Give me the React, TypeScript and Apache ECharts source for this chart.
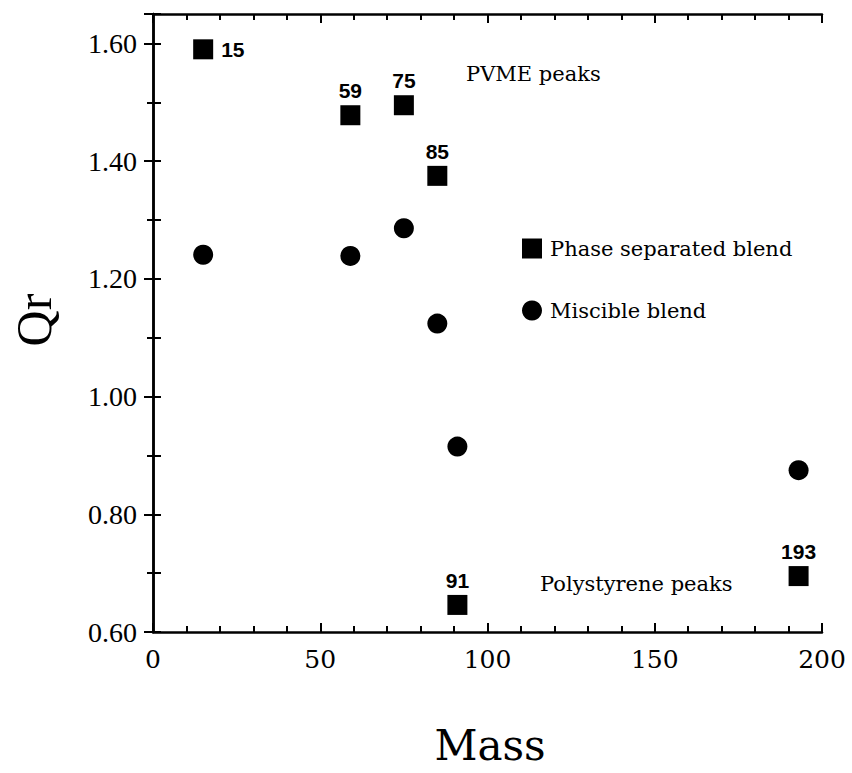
import React, { useEffect, useRef } from "react";
import * as echarts from "echarts";

const masses = [15, 59, 75, 85, 91, 193];
const phaseSeparatedQr = [1.59, 1.478, 1.495, 1.375, 0.646, 0.695];
const miscibleQr = [1.241, 1.239, 1.286, 1.124, 0.915, 0.875];
const peakLabels = ["15", "59", "75", "85", "91", "193"];
const xTicks = { min: 0, max: 200, interval: 50 };
const yTicks = { min: 0.6, max: 1.65, interval: 0.2 };

const SERIF = "'Liberation Serif', 'Times New Roman', serif";
const WIDE_SERIF = "'DejaVu Serif', serif";

export default function App() {
  const ref = useRef<HTMLDivElement>(null);
  useEffect(() => {
    document.body.style.margin = "0";
    const chart = echarts.init(ref.current!, null, { renderer: "svg" });
    const axisLine = { show: true, lineStyle: { color: "#000", width: 2.5 } };
    const option: any = {
      animation: false,
      backgroundColor: "#fff",
      grid: { left: 153, right: 30, top: 14, bottom: 141, containLabel: false, outerBoundsMode: "none" },
      legend: {
        orient: "vertical",
        left: 517,
        top: 233,
        itemWidth: 20,
        itemHeight: 20,
        itemGap: 41,
        textStyle: { fontFamily: WIDE_SERIF, fontSize: 21, color: "#000", padding: [0, 0, 0, 3] },
        data: [
          { name: "Phase separated blend", icon: "rect", itemStyle: { color: "#000", opacity: 1 } },
          { name: "Miscible blend", icon: "circle", itemStyle: { color: "#000", opacity: 1 } },
        ],
      },
      xAxis: [
        {
          type: "value",
          position: "bottom",
          min: xTicks.min,
          max: xTicks.max,
          interval: xTicks.interval,
          axisLine,
          axisTick: { show: true, inside: true, length: 9, lineStyle: { color: "#000", width: 2 } },
          minorTick: { show: true, splitNumber: 5, length: 6, lineStyle: { color: "#000", width: 2 } },
          axisLabel: { fontFamily: WIDE_SERIF, fontSize: 25, color: "#000", margin: 15 },
          splitLine: { show: false },
        },
        {
          type: "value",
          position: "top",
          min: xTicks.min,
          max: xTicks.max,
          interval: xTicks.interval,
          axisLine,
          axisTick: { show: true, inside: true, length: 9, lineStyle: { color: "#000", width: 2 } },
          minorTick: { show: true, splitNumber: 5, length: 6, lineStyle: { color: "#000", width: 2 } },
          axisLabel: { show: false },
          splitLine: { show: false },
        },
      ],
      yAxis: [
        {
          type: "value",
          position: "left",
          min: yTicks.min,
          max: yTicks.max,
          interval: yTicks.interval,
          axisLine,
          axisTick: { show: true, inside: false, length: 9, lineStyle: { color: "#000", width: 2 } },
          minorTick: { show: true, splitNumber: 2, length: 6, lineStyle: { color: "#000", width: 2 } },
          axisLabel: {
            fontFamily: SERIF,
            fontSize: 28,
            color: "#000",
            margin: 16,
            formatter: (v: number) => (Math.abs(v - 1.65) < 1e-6 ? "" : v.toFixed(2)),
          },
          splitLine: { show: false },
        },
        {
          type: "value",
          position: "right",
          min: yTicks.min,
          max: yTicks.max,
          interval: 0.1,
          axisLine,
          axisTick: { show: true, inside: false, length: 8, lineStyle: { color: "#000", width: 2 } },
          axisLabel: { show: false },
          splitLine: { show: false },
        },
      ],
      series: [
        {
          name: "Phase separated blend",
          type: "scatter",
          symbol: "rect",
          symbolSize: 20,
          itemStyle: { color: "#000", opacity: 1 },
          label: {
            show: true,
            position: "top",
            distance: 4,
            fontFamily: "'Liberation Sans', Arial, sans-serif",
            fontWeight: "bold",
            fontSize: 21,
            color: "#000",
            formatter: (p: any) => peakLabels[p.dataIndex],
          },
          data: masses.map((m, i) => ({
            value: [m, phaseSeparatedQr[i]],
            label: i === 0 ? { position: "right", distance: 8 } : undefined,
          })),
        },
        {
          name: "Miscible blend",
          type: "scatter",
          symbol: "circle",
          symbolSize: 20,
          itemStyle: { color: "#000", opacity: 1 },
          data: masses.map((m, i) => [m, miscibleQr[i]]),
        },
      ],
      graphic: [
        {
          type: "text",
          left: 466,
          top: 63,
          style: { text: "PVME peaks", fontFamily: WIDE_SERIF, fontSize: 21, fill: "#000" },
        },
        {
          type: "text",
          left: 540,
          top: 573,
          style: { text: "Polystyrene peaks", fontFamily: WIDE_SERIF, fontSize: 21, fill: "#000" },
        },
        {
          type: "text",
          x: 34,
          y: 320,
          rotation: Math.PI / 2,
          style: {
            text: "Qr",
            fontFamily: SERIF,
            fontSize: 50,
            fill: "#000",
            align: "center",
            verticalAlign: "middle",
          },
        },
        {
          type: "text",
          x: 490,
          y: 745,
          style: {
            text: "Mass",
            fontFamily: WIDE_SERIF,
            fontSize: 42,
            fill: "#000",
            align: "center",
            verticalAlign: "middle",
          },
        },
      ],
    };
    chart.setOption(option);
    return () => chart.dispose();
  }, []);
  return <div ref={ref} style={{ width: 852, height: 773 }} />;
}
